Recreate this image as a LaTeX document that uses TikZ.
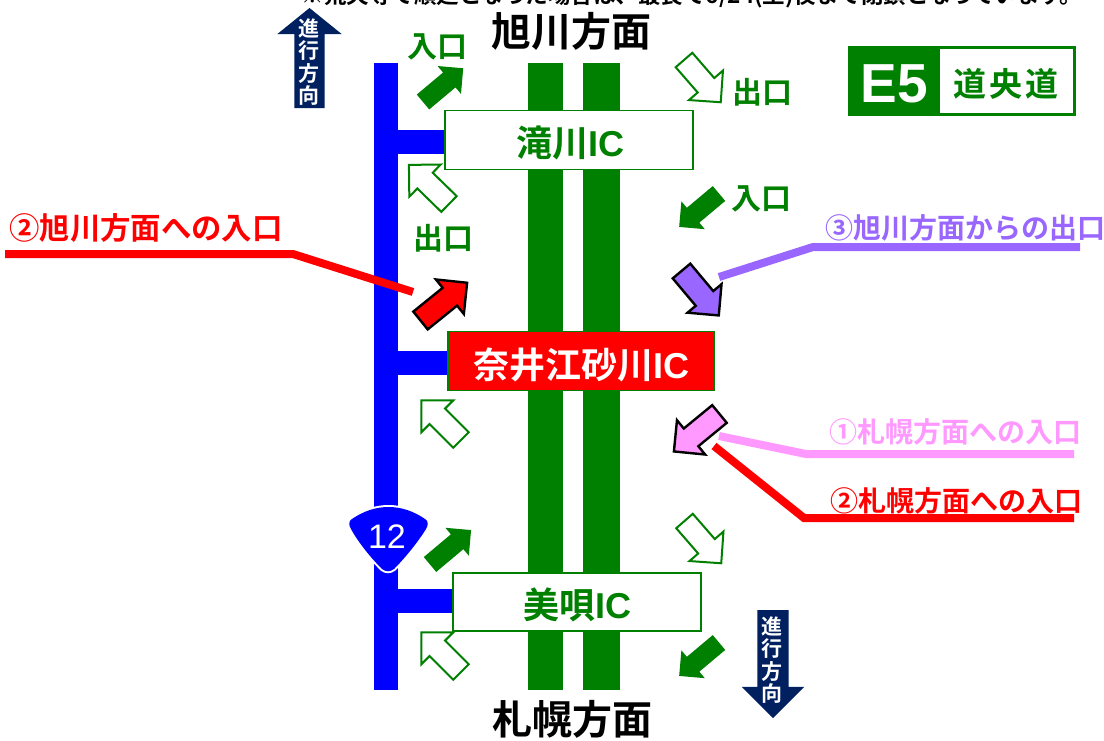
\documentclass[tikz,border=0pt]{standalone}
\usepackage{fontspec}
\setmainfont{Noto Sans CJK JP}[BoldFont={* Bold}]
\newfontfamily\lat{Liberation Sans}
\usetikzlibrary{shapes.arrows,calc}
\definecolor{rgreen}{RGB}{0,128,0}
\definecolor{rnavy}{RGB}{0,32,96}
\definecolor{rblue}{RGB}{0,0,255}
\definecolor{rpurple}{RGB}{153,102,255}
\definecolor{rpink}{RGB}{255,153,255}
\tikzset{
 arrowbase/.style={single arrow,inner sep=0pt,outer sep=0pt,text depth=0pt,text width=0pt,single arrow tip angle=90,minimum height=#1,anchor=tail},
 solidg/.style={arrowbase=#1,text height=19pt,single arrow head extend=8.5pt,fill=rgreen},
 hollow/.style={arrowbase=#1,text height=20pt,single arrow head extend=11.5pt,draw=rgreen,fill=white,line width=2pt},
 edged/.style={arrowbase=#1,text height=20.5pt,single arrow head extend=10.75pt,draw=black,line width=2.4pt},
 navyup/.style={arrowbase=#1,text height=30pt,single arrow head extend=17pt,single arrow tip angle=102,fill=rnavy},
 navydown/.style={arrowbase=#1,text height=31pt,single arrow head extend=15.5pt,fill=rnavy},
 road/.style={fill=rgreen},
 ramp/.style={fill=rblue},
 icbox/.style={draw=rgreen,fill=white,line width=1.5pt,anchor=center,inner sep=0pt},
 ictext/.style={text=rgreen,font=\bfseries\fontsize{36}{36}\selectfont,inner sep=0pt},
 glabel/.style={text=rgreen,font=\bfseries\fontsize{30}{30}\selectfont,inner sep=0pt},
 city/.style={text=black,font=\bfseries\fontsize{40}{40}\selectfont,inner sep=0pt},
 note/.style={font=\bfseries\fontsize{28}{28}\selectfont,inner sep=0pt},
 leader/.style={line width=8pt},
 vtext/.style={text=white,font=\bfseries\fontsize{21}{22.3}\selectfont,align=center,inner sep=0pt},
}
\newcommand{\ic}{{\lat\bfseries IC}}
\newcommand{\shieldpath}{(352,519) .. controls (375,503) and (402,503) .. (425,519) .. controls (429,521) and (428,526) .. (426,529) .. controls (418,542) and (405,558) .. (394,569) .. controls (390,572) and (386,572) .. (382,569) .. controls (371,558) and (358,542) .. (351,529) .. controls (349,526) and (348,521) .. (352,519) -- cycle}
\begin{document}
\begin{tikzpicture}[x=1pt,y=-1pt]
\useasboundingbox (0,0) rectangle (1104,740);
\fill[white] (0,0) rectangle (1104,740);
\clip (0,0) rectangle (1104,740);
% top cut-off sentence
\node[font=\bfseries\fontsize{22.5}{23}\selectfont,inner sep=0pt,anchor=center] (topnote) at (692,-4) {※荒天等で順延となった場合は、最長で6/24(土)夜まで閉鎖となっています。};
% highways
\fill[road] (528,63) rectangle (563,690);
\fill[road] (583,63) rectangle (620,690);
% national route
\fill[ramp] (374,63) rectangle (398,690);
\fill[ramp] (398,130) rectangle (450,154);
\fill[ramp] (398,351) rectangle (450,375);
\fill[ramp] (398,589) rectangle (456,613);
% IC boxes
\node[icbox,minimum width=248pt,minimum height=59pt] (taki) at (569,140) {};
\node[ictext] (takit) at (570,143) {滝川\ic};
\node[icbox,minimum width=266pt,minimum height=59pt,fill=red] (naie) at (581,361) {};
\node[ictext,text=white] (naiet) at (581,365) {奈井江砂川\ic};
\node[icbox,minimum width=248pt,minimum height=58pt] (bibai) at (577,602) {};
\node[ictext] (bibait) at (577,605) {美唄\ic};
% cities
\node[city] (asahi) at (571,31) {旭川方面};
\node[city] (sapp) at (572,719) {札幌方面};
% direction arrows
\node[navyup=100pt,rotate=90] (upa) at (309.5,108) {};
\node[vtext] (uptxt) at (309,62) {進\\行\\方\\向};
\node[navydown=108pt,rotate=-90] (downa) at (773,610) {};
\node[vtext] (dntxt) at (772,660) {進\\行\\方\\向};
% E5 sign
\node[draw=rgreen,fill=white,line width=3pt,minimum width=225pt,minimum height=67pt,inner sep=0pt] (sign) at (961.5,80.5) {};
\fill[rgreen] (849,47) rectangle (940,113);
\node[text=white,font=\lat\bfseries\fontsize{55}{55}\selectfont,inner sep=0pt] (e5) at (894,84) {E5};
\node[text=rgreen,font=\bfseries\fontsize{33}{33}\selectfont,inner sep=0pt] (dou) at (1006,84) {道\hspace{3pt}央\hspace{3pt}道};
% IC arrows (placed by their tails)
\node[solidg=52.5pt,rotate=40] (a1) at (423,102) {};
\node[hollow=56pt,rotate=-49] (a2) at (684,60) {};
\node[hollow=56pt,rotate=135.7] (a3) at (449,204) {};
\node[solidg=52pt,rotate=-140] (a4) at (719,193.5) {};
\node[edged=60pt,fill=red,rotate=39] (a5) at (420.5,320.5) {};
\node[edged=58pt,fill=rpurple,rotate=-50] (a6) at (681.5,271) {};
\node[edged=59pt,fill=rpink,rotate=-140.6] (a7) at (719.5,414) {};
\node[hollow=56pt,rotate=135] (a8) at (461,440) {};
\node[hollow=56pt,rotate=-49] (a9) at (684.5,521) {};
\node[solidg=53.6pt,rotate=40] (a10) at (430,564.5) {};
\node[hollow=56pt,rotate=135] (a11) at (461,672) {};
\node[solidg=52pt,rotate=-140] (a12) at (719,642.5) {};
% route 12 shield
\draw[white,line width=4pt] \shieldpath;
\fill[rblue] \shieldpath;
\node[text=white,font=\lat\fontsize{34}{34}\selectfont,inner sep=0pt] (r12) at (387,537) {12};
% green labels
\node[glabel] (l1) at (437,47) {入口};
\node[glabel] (l2) at (762,92) {出口};
\node[glabel] (l3) at (761,199) {入口};
\node[glabel] (l4) at (443,238) {出口};
% callouts
\node[note,text=red,anchor=west,font=\bfseries\fontsize{30.4}{30}\selectfont] (n1) at (9,228) {②旭川方面への入口};
\coordinate (n1a) at (5,254);
\coordinate (n1b) at (293,254);
\draw[leader,red] (n1a) -- (n1b) -- (413,292);
\node[note,text=rpurple,anchor=west] (n2) at (825,228) {③旭川方面からの出口};
\coordinate (n2a) at (1080,247);
\coordinate (n2b) at (813,247);
\draw[leader,rpurple] (n2a) -- (n2b) -- (719,277);
\node[note,text=rpink,anchor=west] (n3) at (829,432) {①札幌方面への入口};
\coordinate (n3a) at (1074,454);
\coordinate (n3b) at (806,454);
\draw[leader,rpink] (n3a) -- (n3b) -- (719,436);
\node[note,text=red,anchor=west] (n4) at (830,501) {②札幌方面への入口};
\coordinate (n4a) at (1074,518);
\coordinate (n4b) at (804,518);
\draw[leader,red] (n4a) -- (n4b) -- (714,446);
\end{tikzpicture}
\end{document}
